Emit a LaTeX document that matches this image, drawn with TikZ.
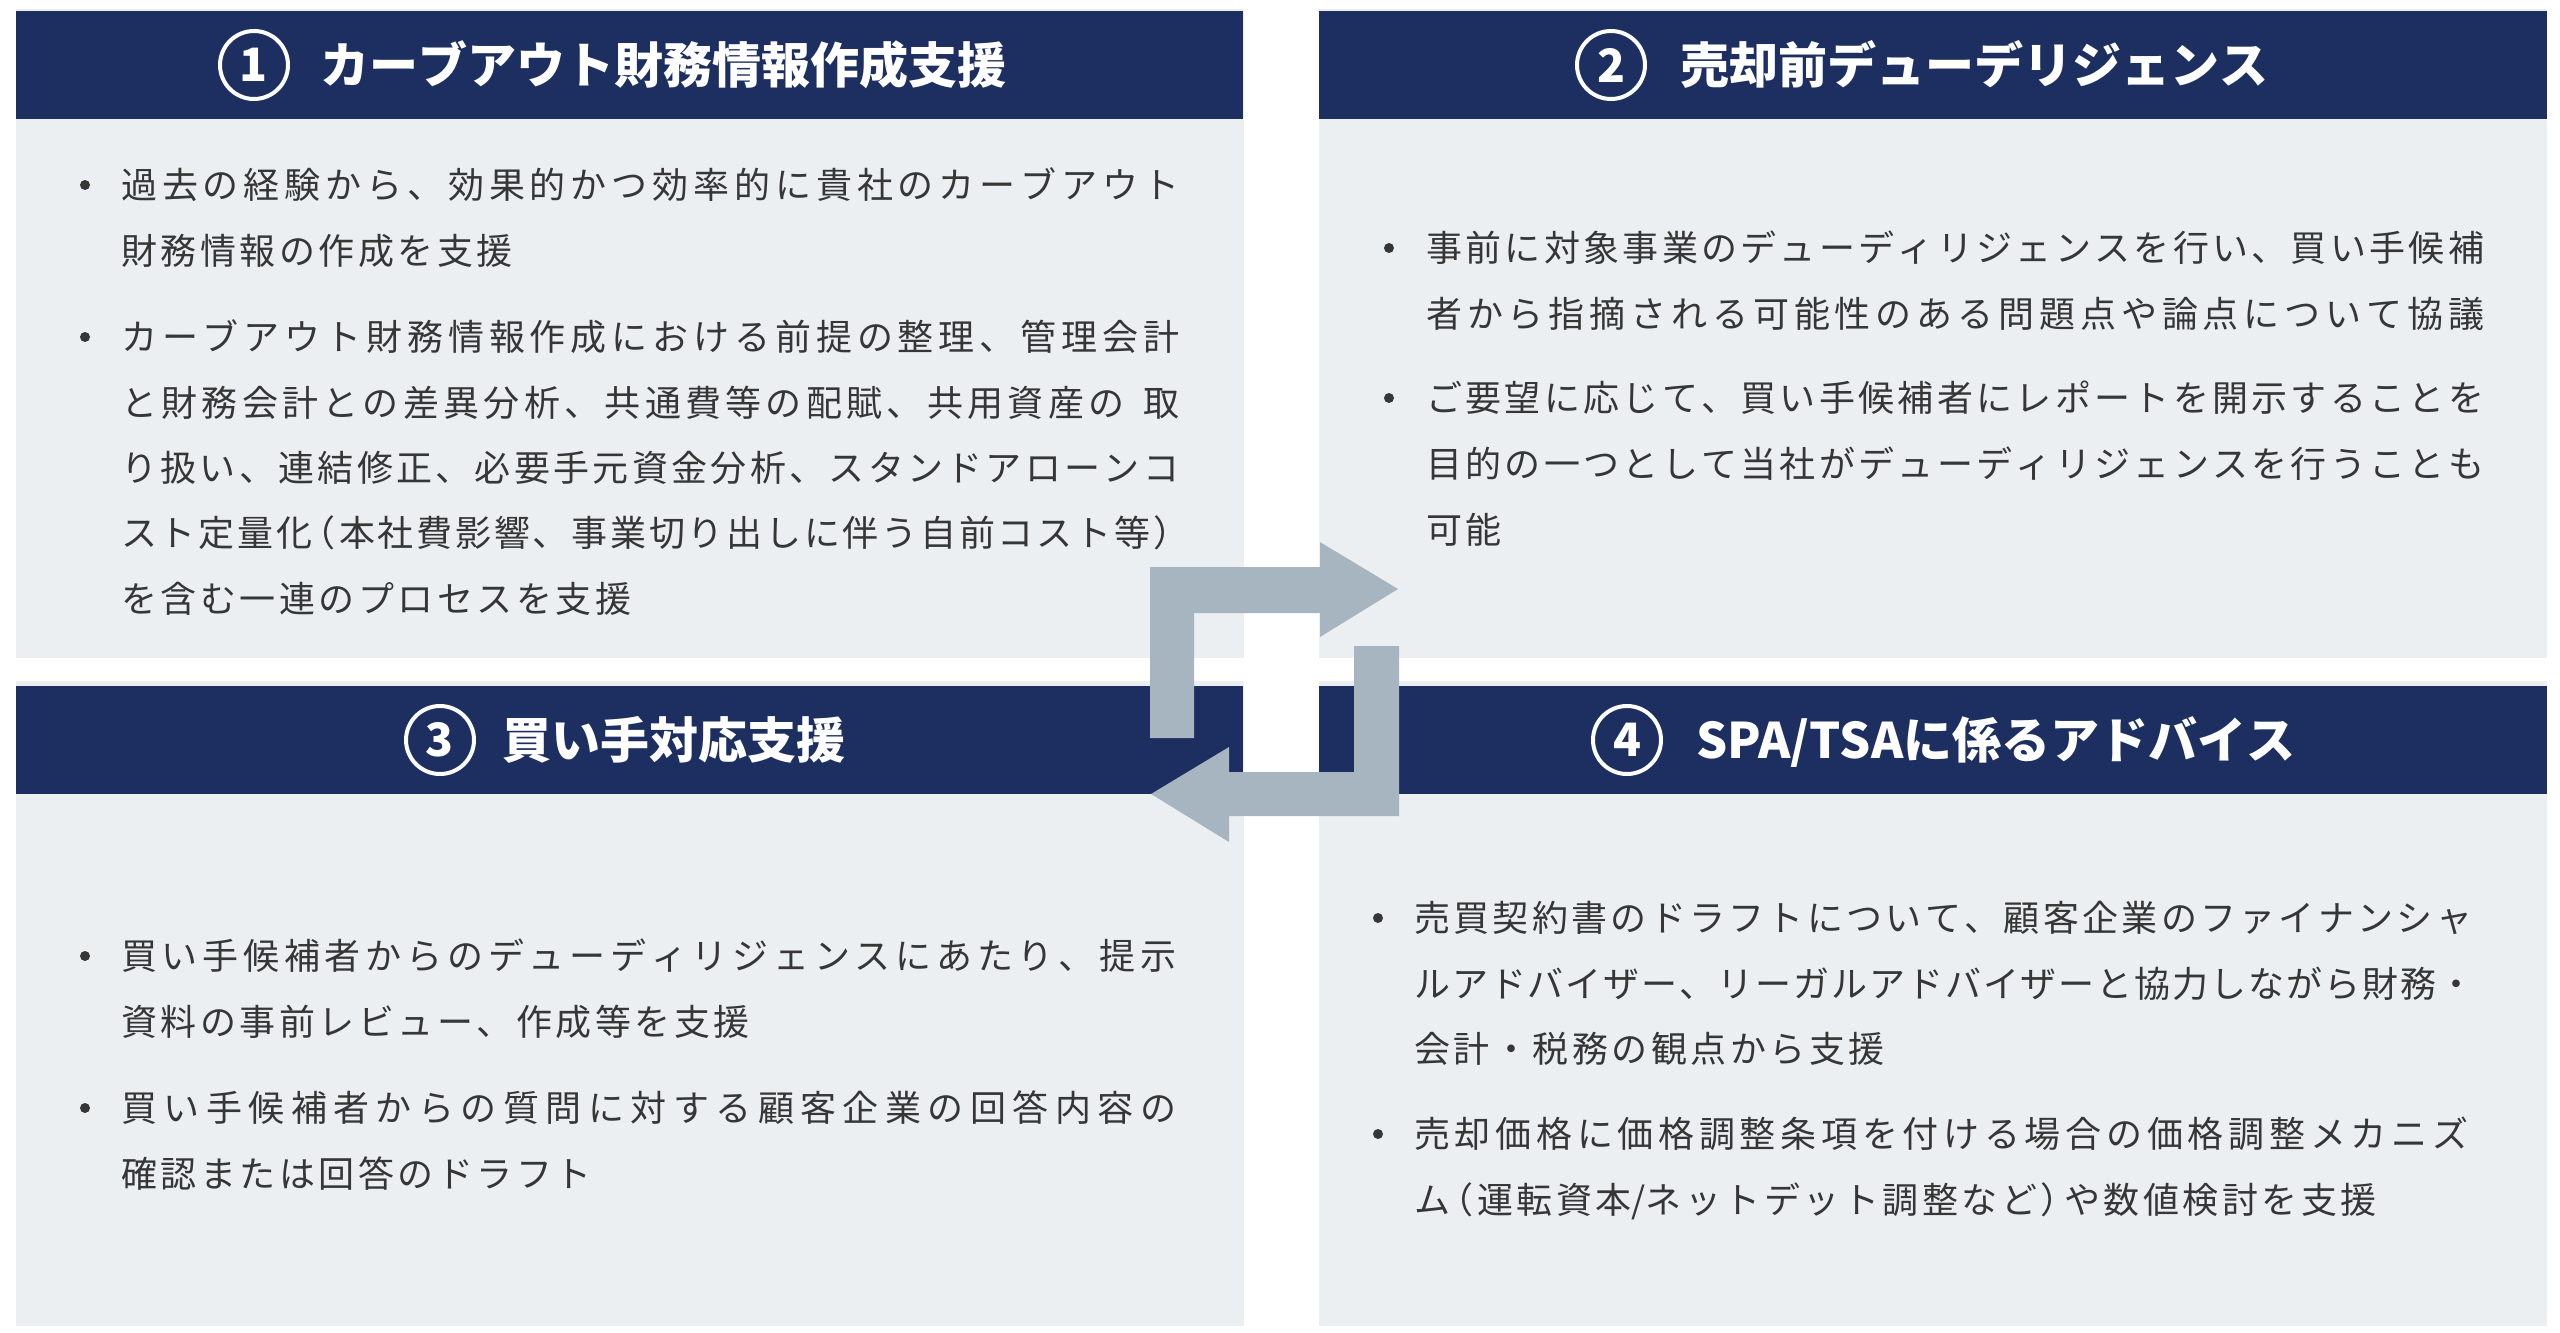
\documentclass[tikz,border=0pt]{standalone}
\usepackage{fontspec}
\setmainfont{Noto Sans CJK JP}
\definecolor{navy}{HTML}{1D2F60}
\definecolor{panelbg}{HTML}{ECEFF2}
\definecolor{arrowgray}{HTML}{A7B5C0}
\definecolor{txtgray}{HTML}{363636}
% inter-character glue for CJK text (tracking and justification)
\XeTeXinterchartokenstate=1
\newcount\cjkcnt
\newdimen\cjksp \cjksp=3.5pt
\def\cjkrange#1#2{\cjkcnt=#1\relax\loop\XeTeXcharclass\cjkcnt=1\relax\advance\cjkcnt by 1\relax\ifnum\cjkcnt<#2\relax\repeat}
\cjkrange{"3000}{"3100}
\cjkrange{"4E00}{"A000}
\cjkrange{"FF00}{"FFF0}
\XeTeXinterchartoks 1 1 = {\hskip\cjksp plus 1fil minus 3pt\relax}
\newcommand\bodyfnt{\fontsize{36}{40}\selectfont}
\newcommand\titlefnt{\bfseries\fontsize{49}{52}\selectfont\cjksp=0pt\relax}
\newcommand\numfnt{\bfseries\fontsize{46}{48}\selectfont}
\newcommand\jl[2]{\hbox to #1{#2}}
% half-width brackets
\newcommand\lpar{\hskip\cjksp plus 1fil\hbox to 20pt{\hss （}\hskip\cjksp plus 1fil\relax}
\newcommand\rpar{\hskip\cjksp plus 1fil\hbox to 20pt{）\hss}\hskip\cjksp plus 1fil\relax}
\newcommand\wsp{\hskip 18pt plus 1fil\relax}
\begin{document}
\begin{tikzpicture}[x=1pt,y=-1pt,
  panel/.style={fill=panelbg, draw=none, anchor=north west, inner sep=0pt, outer sep=0pt},
  hdr/.style={fill=navy, draw=none, anchor=north west, inner sep=0pt, outer sep=0pt},
  numc/.style={circle, draw=white, line width=4pt, minimum size=68pt, inner sep=0pt, text=white, font=\numfnt},
  ttl/.style={anchor=west, inner sep=0pt, text=white, font=\titlefnt, text height=43.1pt, text depth=5.9pt},
  ln/.style={anchor=west, inner sep=0pt, text=txtgray, font=\bodyfnt, text height=31.7pt, text depth=4.3pt},
  dot/.style={circle, fill=txtgray, minimum size=10pt, inner sep=0pt},
  arr/.style={fill=arrowgray, draw=none}]
\useasboundingbox (0,0) rectangle (2560,1333);
\fill[white] (0,0) rectangle (2560,1333);
% panels
\node[panel, minimum width=1228pt, minimum height=649pt] (b1) at (16,9) {};
\node[hdr, minimum width=1227pt, minimum height=108pt] (h1) at (16,11) {};
\node[panel, minimum width=1228pt, minimum height=649pt] (b2) at (1319,9) {};
\node[hdr, minimum width=1228pt, minimum height=108pt] (h2) at (1319,11) {};
\node[panel, minimum width=1228pt, minimum height=645pt] (b3) at (16,681) {};
\node[hdr, minimum width=1227pt, minimum height=108pt] (h3) at (16,686) {};
\node[panel, minimum width=1228pt, minimum height=645pt] (b4) at (1319,681) {};
\node[hdr, minimum width=1228pt, minimum height=108pt] (h4) at (1319,686) {};
% headers
\node[numc] (n1) at (254,65) {1};
\node[ttl] (t1) at (320,65) {カーブアウト財務情報作成支援};
\node[numc] (n2) at (1611,65) {2};
\node[ttl] (t2) at (1680,65) {売却前デューデリジェンス};
\node[numc] (n3) at (440,740) {3};
\node[ttl] (t3) at (502,740) {買い手対応支援};
\node[numc] (n4) at (1627,740) {4};
\node[ttl] (t4) at (1696,740) {SPA/TSAに係るアドバイス};
% panel 1 text
\node[dot] (d1a) at (85,185) {};
\node[ln] (p1a) at (121,185) {\jl{1058pt}{過去の経験から、効果的かつ効率的に貴社のカーブアウト}};
\node[ln] (p1b) at (121,251) {財務情報の作成を支援};
\node[dot] (d1b) at (85,337) {};
\node[ln] (p1c) at (121,337) {\jl{1058pt}{カーブアウト財務情報作成における前提の整理、管理会計}};
\node[ln] (p1d) at (121,403) {\jl{1058pt}{と財務会計との差異分析、共通費等の配賦、共用資産の\wsp 取}};
\node[ln] (p1e) at (121,468) {\jl{1058pt}{り扱い、連結修正、必要手元資金分析、スタンドアローンコ}};
\node[ln] (p1f) at (121,533) {\jl{1056pt}{スト定量化\lpar 本社費影響、事業切り出しに伴う自前コスト等\rpar}};
\node[ln] (p1g) at (121,599) {を含む一連のプロセスを支援};
% panel 2 text
\node[dot] (d2a) at (1389,248) {};
\node[ln] (p2a) at (1426,248) {\jl{1058pt}{事前に対象事業のデューディリジェンスを行い、買い手候補}};
\node[ln] (p2b) at (1426,314) {\jl{1058pt}{者から指摘される可能性のある問題点や論点について協議}};
\node[dot] (d2b) at (1389,398) {};
\node[ln] (p2c) at (1426,398) {\jl{1058pt}{ご要望に応じて、買い手候補者にレポートを開示することを}};
\node[ln] (p2d) at (1426,464) {\jl{1058pt}{目的の一つとして当社がデューディリジェンスを行うことも}};
\node[ln] (p2e) at (1426,530) {可能};
% panel 3 text
\node[dot] (d3a) at (85,956) {};
\node[ln] (p3a) at (121,956) {\jl{1055pt}{買い手候補者からのデューディリジェンスにあたり、提示}};
\node[ln] (p3b) at (121,1022) {資料の事前レビュー、作成等を支援};
\node[dot] (d3b) at (85,1108) {};
\node[ln] (p3c) at (121,1108) {\jl{1055pt}{買い手候補者からの質問に対する顧客企業の回答内容の}};
\node[ln] (p3d) at (121,1174) {確認または回答のドラフト};
% panel 4 text
\node[dot] (d4a) at (1378,918) {};
\node[ln] (p4a) at (1414,918) {\jl{1058pt}{売買契約書のドラフトについて、顧客企業のファイナンシャ}};
\node[ln] (p4b) at (1414,984) {\jl{1060pt}{ルアドバイザー、リーガルアドバイザーと協力しながら財務・}};
\node[ln] (p4c) at (1414,1049) {会計・税務の観点から支援};
\node[dot] (d4b) at (1378,1134) {};
\node[ln] (p4d) at (1414,1134) {\jl{1054pt}{売却価格に価格調整条項を付ける場合の価格調整メカニズ}};
\node[ln] (p4e) at (1414,1200) {ム\lpar 運転資本/ネットデット調整など\rpar や数値検討を支援};
% cycle arrows
\fill[arr] (1150,738) -- (1150,567) -- (1320,567) -- (1320,542) -- (1398,589) -- (1320,637) -- (1320,613) -- (1194,613) -- (1194,738) -- cycle;
\fill[arr] (1399,646) -- (1399,816) -- (1229,816) -- (1229,842) -- (1151,794) -- (1229,747) -- (1229,772) -- (1354,772) -- (1354,646) -- cycle;
\end{tikzpicture}
\end{document}
